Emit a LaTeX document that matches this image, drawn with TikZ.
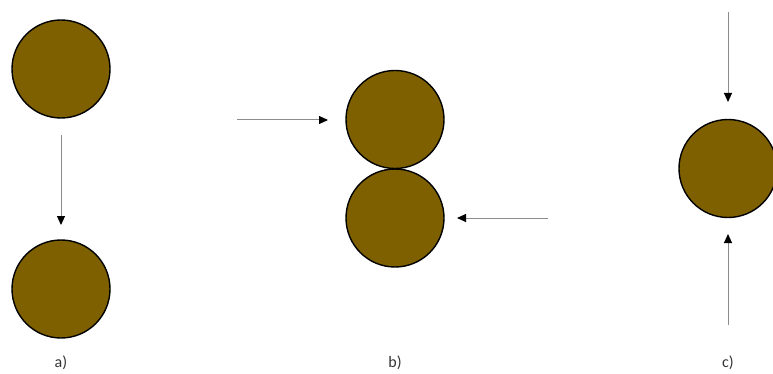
\documentclass[tikz,border=0pt]{standalone}
\usepackage{fontspec}
\setmainfont{Carlito}
\usetikzlibrary{arrows.meta}
\definecolor{ball}{HTML}{7F6000}
\definecolor{shaft}{HTML}{8C8C8C}
\begin{document}
\begin{tikzpicture}[x=1pt,y=-1pt,
  ball/.style={circle,draw=black,line width=1.4pt,fill=ball,minimum size=98pt,inner sep=0pt},
  push/.style={draw=shaft,line width=1pt,-{Triangle[length=9pt,width=8pt,black]}},
  lbl/.style={font=\fontsize{16}{18}\selectfont,text=black!80}]
\useasboundingbox (0,0) rectangle (773,374);
% a)
\node[ball] (a1) at (61,69) {};
\node[ball] (a2) at (61,289) {};
\coordinate (as) at (61,135);
\coordinate (ae) at (61,225);
\draw[push] (as) -- (ae);
\node[lbl] (la) at (61,363) {a)};
% b)
\node[ball] (b1) at (395,119.5) {};
\node[ball] (b2) at (395,218) {};
\coordinate (bs1) at (237,120);
\coordinate (be1) at (328,120);
\coordinate (bs2) at (548,218);
\coordinate (be2) at (457,218);
\draw[push] (bs1) -- (be1);
\draw[push] (bs2) -- (be2);
\node[lbl] (lb) at (395,363) {b)};
% c)
\node[ball] (c1) at (728,168.5) {};
\coordinate (cs1) at (728,12);
\coordinate (ce1) at (728,102);
\coordinate (cs2) at (728,325);
\coordinate (ce2) at (728,234);
\draw[push] (cs1) -- (ce1);
\draw[push] (cs2) -- (ce2);
\node[lbl] (lc) at (728,363) {c)};
\end{tikzpicture}
\end{document}
